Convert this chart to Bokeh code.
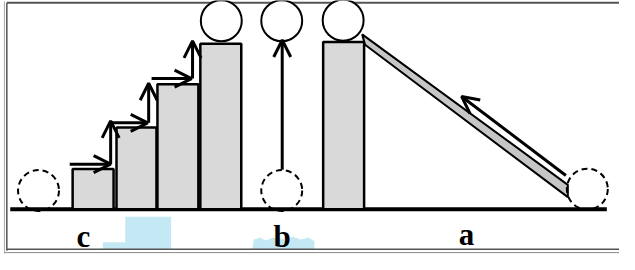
from bokeh.plotting import figure
from bokeh.models import Range1d, Arrow, OpenHead, ColumnDataSource
from bokeh.embed import file_html
from bokeh.resources import INLINE
from bokeh.core.properties import value

# ---- diagram data (reference pixel coordinates, y grows downward) ----
ground_x = [10, 622]
ground_y = [222, 222]

box_left = [74, 119, 161, 205, 331]
box_right = [116, 160, 203, 247, 373]
box_top = [179, 135, 89, 46, 44]
box_bottom = [222, 222, 222, 222, 222]

ball_x = [226.5, 288.5, 351.5]
ball_y = [21.5, 21.5, 21]
ghost_x = [39, 288.5, 602]
ghost_y = [202, 202, 200.5]
ball_r = 21

ramp_x = [371, 582, 582, 374]
ramp_y = [36, 196, 209, 47]

arrow_x0 = [71, 113, 112, 152, 155, 197, 289, 580]
arrow_y0 = [174, 174, 130, 130, 83, 83, 180, 186]
arrow_x1 = [113, 113, 151, 152, 196, 197, 289, 473]
arrow_y1 = [174, 128, 130, 88, 83, 43, 42, 102]

label_text = ["c", "b", "a"]
label_x = [85, 289, 478]
label_y = [251, 251, 249]

mark_x = [[105, 105, 128, 128, 175, 175],
          [258, 260, 266, 272, 280, 290, 300, 308, 316, 322, 322]]
mark_y = [[265, 257, 257, 230, 230, 265],
          [265, 254, 252, 255, 252, 254, 251, 254, 252, 256, 265]]

W, H = 619, 254
p = figure(width=W, height=H, output_backend="svg", toolbar_location=None,
           x_range=Range1d(0, 635), y_range=Range1d(270, 0),
           x_axis_type=None, y_axis_type=None, min_border=0)
p.outline_line_color = None
p.xgrid.visible = False
p.ygrid.visible = False
p.background_fill_color = "white"
p.border_fill_color = "white"

# faint watermark
p.patches(mark_x, mark_y, fill_color="#bfe6f4", line_color=None, fill_alpha=0.9)

# double frame
p.line([4, 4], [1, 269], line_color="#aaaaaa", line_width=1)
p.line([6.5, 6.5], [2.5, 266], line_color="#555555", line_width=1.5)
p.line([6.5, 635], [2.5, 2.5], line_color="#555555", line_width=2)
p.line([6.5, 635], [264.5, 264.5], line_color="#555555", line_width=1.5)
p.line([4, 635], [268, 268], line_color="#888888", line_width=1)

# ground
p.line(ground_x, ground_y, line_color="black", line_width=4)

# blocks
p.quad(left=box_left, right=box_right, top=box_top, bottom=box_bottom,
       fill_color="#d9d9d9", line_color="black", line_width=2.5)

# ramp
p.patch(ramp_x, ramp_y, fill_color="#c6c6c6", line_color="black", line_width=2)

# balls
p.circle(ball_x, ball_y, radius=ball_r, fill_color="white", line_color="black", line_width=2)
p.circle(ghost_x, ghost_y, radius=ball_r, fill_color="white", fill_alpha=0,
         line_color="black", line_width=2, line_dash="6 4")

# arrows
src = ColumnDataSource(dict(x0=arrow_x0, y0=arrow_y0, x1=arrow_x1, y1=arrow_y1))
p.add_layout(Arrow(end=OpenHead(size=17, line_width=3, line_color="black"),
                   x_start="x0", y_start="y0", x_end="x1", y_end="y1",
                   line_width=3, line_color="black", source=src))

# labels
p.text(label_x, label_y, text=label_text, text_font=value("Liberation Serif"),
       text_font_style="bold", text_font_size="31px", text_align="center",
       text_baseline="alphabetic", text_color="black")

open("out.html", "w").write(file_html(p, INLINE))
